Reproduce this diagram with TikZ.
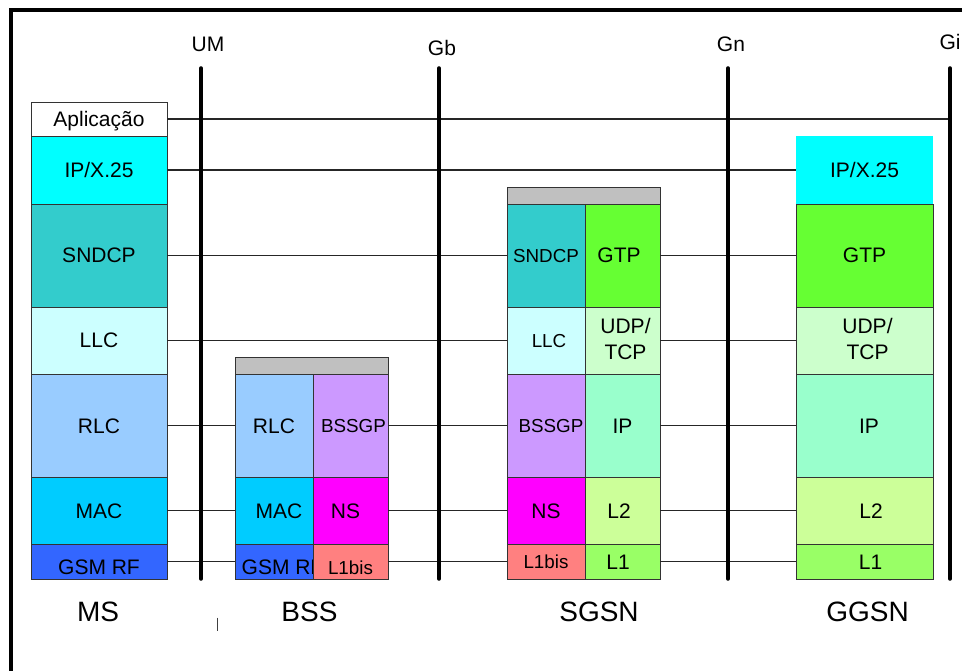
\documentclass[tikz,border=0pt]{standalone}
\usepackage{fontspec}
\setmainfont{Liberation Sans}
\usepackage{tikz}
\usetikzlibrary{positioning}

\definecolor{ipx}{HTML}{00FFFF}
\definecolor{sndcp}{HTML}{33CCCC}
\definecolor{llc}{HTML}{CCFFFF}
\definecolor{rlc}{HTML}{99CCFF}
\definecolor{mac}{HTML}{00CCFF}
\definecolor{gsmrf}{HTML}{3366FF}
\definecolor{topgray}{HTML}{C0C0C0}
\definecolor{bssgp}{HTML}{CC99FF}
\definecolor{ns}{HTML}{FF00FF}
\definecolor{lbis}{HTML}{FF8080}
\definecolor{gtp}{HTML}{66FF33}
\definecolor{udp}{HTML}{CCFFCC}
\definecolor{ip}{HTML}{99FFCC}
\definecolor{ltwo}{HTML}{CCFF99}
\definecolor{lone}{HTML}{99FF66}

% two lines of text stacked inside one box
\newcommand{\stacktwo}[2]{\makebox[0pt]{\raisebox{14pt}{#1}}\makebox[0pt]{\raisebox{-12pt}{#2}}}

\begin{document}
\begin{tikzpicture}[
  x=1pt, y=-1pt,
  lay/.style={draw=black!80, line width=0.9pt, anchor=north west, inner sep=0pt, outer sep=0pt,
    font=\fontsize{21}{25}\selectfont, text height=15pt, text depth=0pt},
  sm/.style={font=\fontsize{18.8}{22}\selectfont, text height=13.5pt},
  link/.style={draw=black!85, line width=1.1pt},
  iface/.style={line width=3.5pt, line cap=round},
  ifname/.style={font=\fontsize{21}{24}\selectfont, inner sep=0pt, text height=15pt, text depth=0pt},
  elname/.style={font=\fontsize{28}{30}\selectfont, inner sep=0pt, text height=20pt, text depth=0pt}
]
\useasboundingbox (0,0) rectangle (962,671);
\draw[line width=4pt] (11,671) |- (962,10.5);

% MS
\node[lay, fill=white, minimum width=136, minimum height=34] (msApp) at (31,102) {Aplicação};
\node[lay, fill=ipx, minimum width=136, minimum height=68] (msIPX) at (31,136) {IP/X.25};
\node[lay, fill=sndcp, minimum width=136, minimum height=103] (msSNDCP) at (31,204) {SNDCP};
\node[lay, fill=llc, minimum width=136, minimum height=67] (msLLC) at (31,307) {LLC};
\node[lay, fill=rlc, minimum width=136, minimum height=103] (msRLC) at (31,374) {RLC};
\node[lay, fill=mac, minimum width=136, minimum height=67] (msMAC) at (31,477) {MAC};
\node[lay, fill=gsmrf, minimum width=136, minimum height=35, text height=26.6pt] (msRF) at (31,544) {GSM RF};

% BSS
\node[lay, fill=topgray, minimum width=153, minimum height=17] (bsTop) at (235,357) {};
\node[lay, fill=rlc, minimum width=78, minimum height=103] (bsRLC) at (235,374) {RLC};
\node[lay, sm, fill=bssgp, minimum width=75, minimum height=103] (bsBSSGP) at (313,374) {\hspace*{6pt}BSSGP};
\node[lay, fill=mac, minimum width=78, minimum height=67] (bsMAC) at (235,477) {\hspace*{10pt}MAC};
\node[lay, fill=ns, minimum width=75, minimum height=67] (bsNS) at (313,477) {NS\hspace*{10pt}};
\node[lay, fill=gsmrf, minimum width=78, minimum height=35, text height=26.6pt] (bsRF) at (235,544) {\makebox[0pt]{\hspace*{17pt}GSM RF}};
\node[lay, sm, fill=lbis, minimum width=75, minimum height=35, text height=25.5pt] (bsL1bis) at (313,544) {L1bis};

% SGSN
\node[lay, fill=topgray, minimum width=153, minimum height=17] (sgTop) at (507,187) {};
\node[lay, sm, fill=sndcp, minimum width=78, minimum height=103] (sgSNDCP) at (507,204) {SNDCP};
\node[lay, fill=gtp, minimum width=75, minimum height=103] (sgGTP) at (585,204) {GTP\hspace*{7pt}};
\node[lay, sm, fill=llc, minimum width=78, minimum height=67] (sgLLC) at (507,307) {\hspace*{6pt}LLC};
\node[lay, fill=udp, minimum width=75, minimum height=67] (sgUDP) at (585,307) {\hspace*{6pt}\stacktwo{UDP/}{TCP}};
\node[lay, sm, fill=bssgp, minimum width=78, minimum height=103] (sgBSSGP) at (507,374) {\hspace*{10pt}BSSGP};
\node[lay, fill=ip, minimum width=75, minimum height=103] (sgIP) at (585,374) {IP};
\node[lay, fill=ns, minimum width=78, minimum height=67] (sgNS) at (507,477) {NS};
\node[lay, fill=ltwo, minimum width=75, minimum height=67] (sgL2) at (585,477) {L2\hspace*{7pt}};
\node[lay, sm, fill=lbis, minimum width=78, minimum height=35] (sgL1bis) at (507,544) {L1bis};
\node[lay, fill=lone, minimum width=75, minimum height=35] (sgL1) at (585,544) {L1\hspace*{9pt}};

% GGSN
\node[lay, draw=none, fill=ipx, minimum width=137, minimum height=68] (ggIPX) at (796,136) {IP/X.25};
\node[lay, fill=gtp, minimum width=137, minimum height=103] (ggGTP) at (796,204) {GTP};
\node[lay, fill=udp, minimum width=137, minimum height=67] (ggUDP) at (796,307) {\hspace*{6pt}\stacktwo{UDP/}{TCP}};
\node[lay, fill=ip, minimum width=137, minimum height=103] (ggIP) at (796,374) {\hspace*{9pt}IP};
\node[lay, fill=ltwo, minimum width=137, minimum height=67] (ggL2) at (796,477) {\hspace*{13pt}L2};
\node[lay, fill=lone, minimum width=137, minimum height=35] (ggL1) at (796,544) {\hspace*{12pt}L1};

% interfaces
\coordinate (umTop) at (201,68);  \coordinate (umBot) at (201,579);
\coordinate (gbTop) at (439,68);  \coordinate (gbBot) at (439,579);
\coordinate (gnTop) at (728,68);  \coordinate (gnBot) at (728,579);
\coordinate (giTop) at (950,68);  \coordinate (giBot) at (950,579);

% peer links
\draw[link] (msApp.east) -- (msApp.east -| giTop);
\draw[link] (msIPX.east) -- (ggIPX.west);
\draw[link] (msSNDCP.east) -- (sgSNDCP.west);
\draw[link] (msLLC.east) -- (sgLLC.west);
\draw[link] (msRLC.east) -- (bsRLC.west);
\draw[link] (msMAC.east) -- (bsMAC.west);
\draw[link] (msRF.east) -- (bsRF.west);
\draw[link] (bsBSSGP.east) -- (sgBSSGP.west);
\draw[link] (bsNS.east) -- (sgNS.west);
\draw[link] (bsL1bis.east) -- (sgL1bis.west);
\draw[link] (sgGTP.east) -- (ggGTP.west);
\draw[link] (sgUDP.east) -- (ggUDP.west);
\draw[link] (sgIP.east) -- (ggIP.west);
\draw[link] (sgL2.east) -- (ggL2.west);
\draw[link] (sgL1.east) -- (ggL1.west);

\draw[iface] (umTop) -- (umBot);
\draw[iface] (gbTop) -- (gbBot);
\draw[iface] (gnTop) -- (gnBot);
\draw[iface] (giTop) -- (giBot);
\node[ifname] (umLbl) at (208,44.5) {UM};
\node[ifname] (gbLbl) at (442,48.5) {Gb};
\node[ifname] (gnLbl) at (731,44) {Gn};
\node[ifname] (giLbl) at (950,42.5) {Gi};

% element names
\node[elname] (msName) at (98,611) {MS};
\node[elname] (bsName) at (309.5,611) {BSS};
\node[elname] (sgName) at (599,611) {SGSN};
\node[elname] (ggName) at (867.5,611) {GGSN};

\coordinate (tickA) at (217.7,617.5);
\coordinate (tickB) at (217.7,630.5);
\draw[line width=1.3pt, black!75] (tickA) -- (tickB);
\end{tikzpicture}
\end{document}
